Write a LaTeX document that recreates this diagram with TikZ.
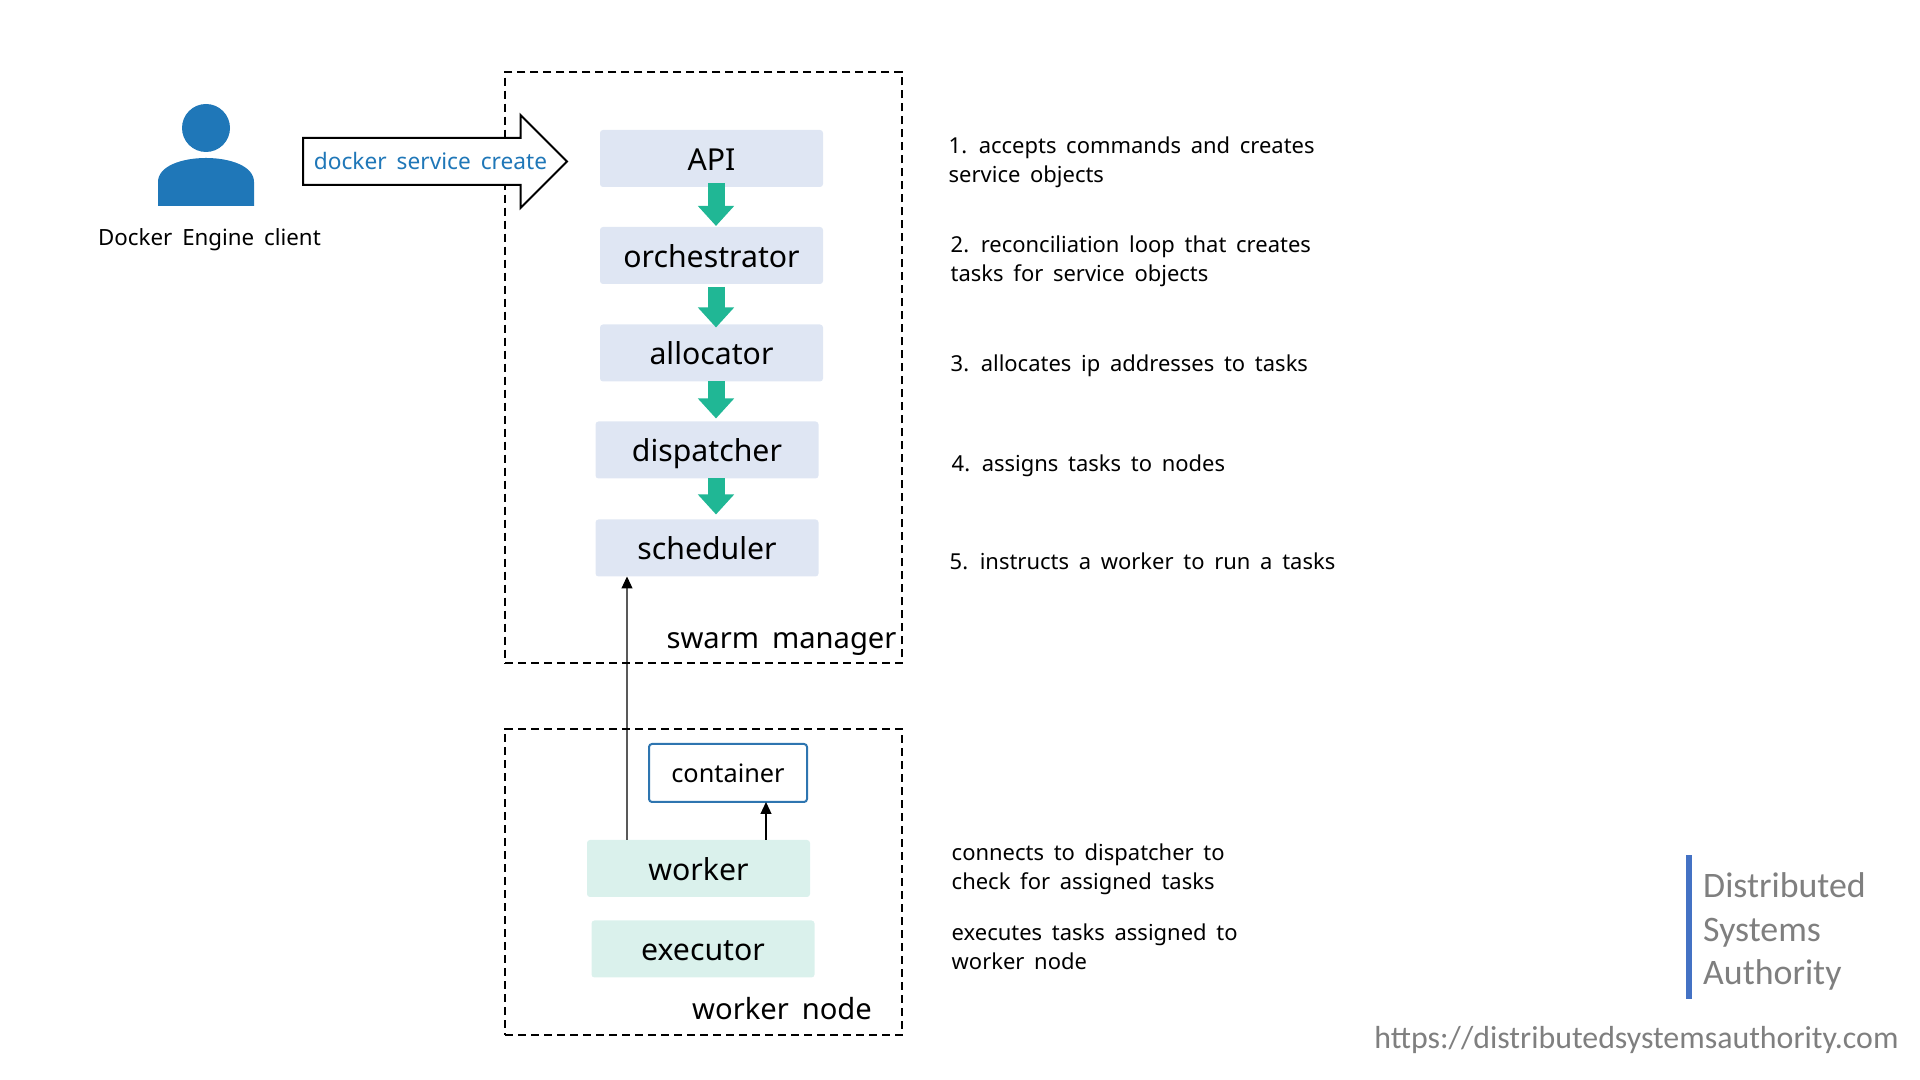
\documentclass[tikz,border=0pt]{standalone}
\usepackage{fontspec}
\setmainfont[WordSpace=1.7]{Noto Sans}
\newfontfamily\markfont{Carlito}
\usetikzlibrary{arrows.meta,shapes.arrows}
\definecolor{mgrfill}{HTML}{DFE6F3}
\definecolor{wkrfill}{HTML}{DAF1EC}
\definecolor{flowgreen}{HTML}{20B795}
\definecolor{dockerblue}{HTML}{1F77B8}
\definecolor{boxblue}{HTML}{2E75B0}
\definecolor{markbar}{HTML}{4472C4}
\definecolor{markgray}{HTML}{7F7F7F}
\tikzset{
  dashbox/.style={ draw, line width=.02cm, dash pattern=on .08cm off .05cm, outer sep=0pt }
}
\tikzset{
  mgrbox/.style={ fill=mgrfill, rounded corners=.03cm, minimum width=2.23cm, minimum height=.57cm, inner sep=0pt, outer sep=0pt,
    text height=.31cm, text depth=.07cm, font=\fontsize{8.6}{10}\selectfont }
}
\tikzset{
  wkrbox/.style={ mgrbox, fill=wkrfill }
}
\tikzset{
  flowarrow/.style={ flowgreen, line width=.17cm, -{Triangle[length=.2cm,width=.35cm]} }
}
\tikzset{
  wire/.style={ black, line width=.012cm, -{Triangle[length=.12cm,width=.11cm]} }
}
\tikzset{
  notetext/.style={ anchor=west, align=left, inner sep=0pt, font=\fontsize{6.25}{8.26}\selectfont }
}
\tikzset{
  areatext/.style={ inner sep=0pt, font=\fontsize{8.3}{10}\selectfont }
}
\tikzset{
  bigarrow/.style={ draw, fill=white, single arrow, line width=.02cm, inner xsep=0pt, inner ysep=.225cm, outer sep=0pt,
    minimum height=2.64cm, minimum width=.91cm, single arrow head extend=.23cm }
}
\begin{document}
\begin{tikzpicture}
      \useasboundingbox (0, 0) rectangle (19.2, 10.8);

      % dashed areas
      \node[dashbox, minimum width=3.97cm, minimum height=5.915cm] (swarm) at (7.035, 7.1225) {};
      \node[dashbox, minimum width=3.97cm, minimum height=3.06cm] (wnode) at (7.035, 1.98) {};
      \node[areatext] (swarmlabel) at (7.815, 4.36) {swarm manager};
      \node[areatext] (wnodelabel) at (7.82, 0.71) {worker node};

      % client
      \fill[dockerblue] (2.06, 9.52) circle (.24);
      \fill[dockerblue] (1.58, 8.74) -- (1.58, 8.98) .. controls (1.58, 9.14) and (1.82, 9.22) .. (2.06, 9.22)
        .. controls (2.30, 9.22) and (2.54, 9.14) .. (2.54, 8.98) -- (2.54, 8.74) -- cycle;
      \node[inner sep=0pt, font=\fontsize{6.35}{8}\selectfont] (client) at (2.095, 8.405) {Docker Engine client};
      \node[bigarrow, anchor=tail] (cmdarrow) at (3.03, 9.185) {};
      \node[inner sep=0pt, text=dockerblue, font=\fontsize{6.45}{8}\selectfont] (cmd) at (4.305, 9.19) {docker service create};

      % manager
      \node[mgrbox] (api) at (7.115, 9.215) {API};
      \node[mgrbox] (orch) at (7.115, 8.245) {orchestrator};
      \node[mgrbox] (alloc) at (7.115, 7.27) {allocator};
      \node[mgrbox] (disp) at (7.07, 6.30) {dispatcher};
      \node[mgrbox] (sched) at (7.07, 5.32) {scheduler};

      \draw[flowarrow] ([xshift=.045cm, yshift=.04cm]api.south) -- ([xshift=.045cm, yshift=.01cm]orch.north);
      \draw[flowarrow] ([xshift=.045cm, yshift=-.03cm]orch.south) -- ([xshift=.045cm, yshift=-.03cm]alloc.north);
      \draw[flowarrow] ([xshift=.045cm]alloc.south) -- ([xshift=.09cm, yshift=.03cm]disp.north);
      \draw[flowarrow] ([xshift=.09cm]disp.south) -- ([xshift=.09cm, yshift=.05cm]sched.north);

      % worker
      \node[draw=boxblue, line width=.02cm, rounded corners=.03cm, minimum width=1.58cm, minimum height=.58cm, inner sep=0pt, outer sep=0pt,
        text height=.28cm, text depth=.08cm, font=\fontsize{7.2}{9}\selectfont] (cont) at (7.28, 3.07) {container};
      \node[wkrbox] (worker) at (6.985, 2.115) {worker};
      \node[wkrbox] (exec) at (7.03, 1.31) {executor};

      \draw[wire] ([xshift=-.715cm]worker.north) -- ([xshift=-.80cm]sched.south);
      \draw[wire] ([xshift=.675cm]worker.north) -- ([xshift=.38cm]cont.south);

      % notes
      \node[notetext] (note1) at (9.48, 9.175) {1. accepts commands and creates\\service objects};
      \node[notetext] (note2) at (9.50, 8.19) {2. reconciliation loop that creates\\tasks for service objects};
      \node[notetext] (note3) at (9.50, 7.145) {3. allocates ip addresses to tasks};
      \node[notetext] (note4) at (9.51, 6.145) {4. assigns tasks to nodes};
      \node[notetext] (note5) at (9.49, 5.19) {5. instructs a worker to run a tasks};
      \node[notetext] (note6) at (9.51, 2.11) {connects to dispatcher to\\check for assigned tasks};
      \node[notetext] (note7) at (9.51, 1.335) {executes tasks assigned to\\worker node};

      % site mark
      \fill[markbar] (16.86, 0.81) rectangle (16.92, 2.25);
      \node[anchor=west, align=left, inner sep=0pt, text=markgray, font=\markfont\fontsize{10.2}{12.4}\selectfont] (markname) at (17.025, 1.485) {Distributed\\Systems\\Authority};
      \node[inner sep=0pt, text=markgray, font=\markfont\fontsize{9.07}{10}\selectfont] (markurl) at (16.365, 0.40) {https://distributedsystemsauthority.com};
    \end{tikzpicture}
\end{document}
